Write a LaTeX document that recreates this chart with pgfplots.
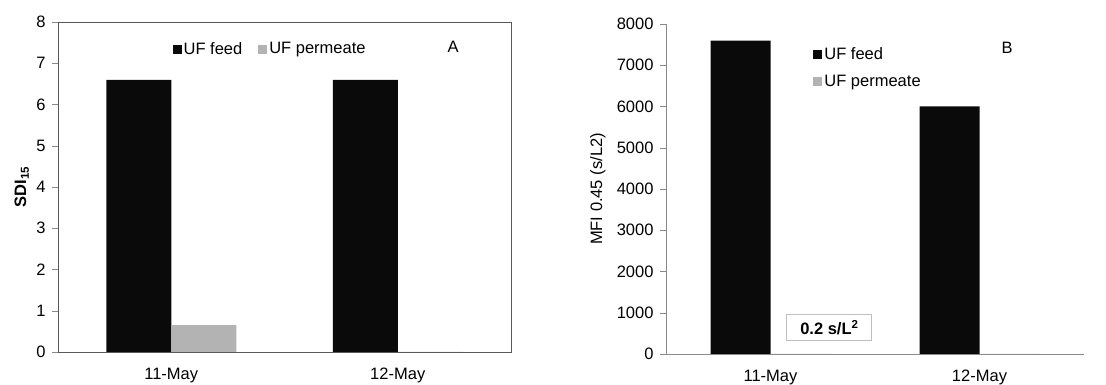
\documentclass[border=0pt]{standalone}
\usepackage{fontspec}
\setmainfont{Liberation Sans}
\usepackage{pgfplots}
\pgfplotsset{compat=1.18}
\definecolor{barblack}{HTML}{0A0A0A}
\definecolor{bargray}{HTML}{B3B3B3}
\definecolor{axgray}{HTML}{8A8A8A}
\pgfplotsset{
  sq/.style={legend image code/.code={\fill[##1,draw=none] (0pt,-4.5pt) rectangle (9pt,4.5pt);}},
  common/.style={
    scale only axis,
    font=\fontsize{16.5}{19.8}\selectfont,
    ticklabel style={font=\fontsize{16.5}{19.8}\selectfont},
    /pgf/number format/assume math mode=true,
    /pgf/number format/1000 sep={},
    enlargelimits=false,
    xmin=-0.5, xmax=1.5, ymin=0,
    xtick={0,1}, xticklabels={11-May,12-May},
    xtick style={draw=none},
    extra x ticks={-0.5,0.5,1.5}, extra x tick labels={},
    extra x tick style={tick style={draw=axgray}, major tick length=8pt},
    tick align=outside, tick pos=left,
    major tick length=6pt,
    ytick style={draw=axgray},
    xticklabel style={yshift=-6pt, text height=12pt, text depth=3.5pt, anchor=north},
    yticklabel style={xshift=-3pt},
    axis line style={axgray},
    ylabel style={anchor=center},
    legend cell align=left,
  }
}
\begin{document}
\begin{tikzpicture}
\path[use as bounding box] (0,0) rectangle (1106pt,385pt);
% Panel A
\begin{axis}[common,
  at={(58pt,33pt)}, anchor=south west,
  width=453pt, height=330pt,
  ymax=8, ytick={0,1,...,8},
  axis line style={black!65},
  ylabel={\textbf{SDI\textsubscript{15}}},
  ylabel style={at={(axis description cs:-0.08,0.5)}},
  legend style={at={(0.246,0.918)}, anchor=west, draw=none, fill=none,
    legend columns=2, nodes={inner sep=2pt},
    /tikz/every even column/.append style={column sep=14pt}},
]
\addplot[ybar, bar width=65pt, bar shift=-32.5pt, fill=barblack, draw=none, sq]
  coordinates {(0,6.6) (1,6.6)};
\addplot[ybar, bar width=65pt, bar shift=32.5pt, fill=bargray, draw=none, sq]
  coordinates {(0,0.65) (1,0)};
\legend{UF feed, UF permeate}
\node at (rel axis cs:0.872,0.924) {A};
\end{axis}
% Panel B
\begin{axis}[common,
  at={(666pt,31pt)}, anchor=south west,
  width=418pt, height=330pt,
  ymax=8000, ytick={0,1000,...,8000},
  axis x line*=bottom, axis y line*=left,
  ylabel={MFI 0.45 (s/L2)},
  ylabel style={at={(axis description cs:-0.163,0.5)}},
  legend style={at={(0.345,0.941)}, anchor=north west, draw=none, fill=none,
    legend columns=1, nodes={inner sep=2pt}, row sep=10pt},
]
\addplot[ybar, bar width=60pt, bar shift=-30pt, fill=barblack, draw=none, sq]
  coordinates {(0,7600) (1,6000)};
\addplot[ybar, bar width=60pt, bar shift=30pt, fill=bargray, draw=bargray, sq]
  coordinates {(0,0.2) (1,0)};
\legend{UF feed, UF permeate}
\node at (rel axis cs:0.816,0.927) {B};
\node[draw=black!25, line width=1pt, minimum width=85pt, minimum height=26pt, font=\fontsize{16.5}{19.8}\selectfont\bfseries]
  at (rel axis cs:0.391,0.079) {0.2 s/L\textsuperscript{2}};
\end{axis}
\end{tikzpicture}
\end{document}
